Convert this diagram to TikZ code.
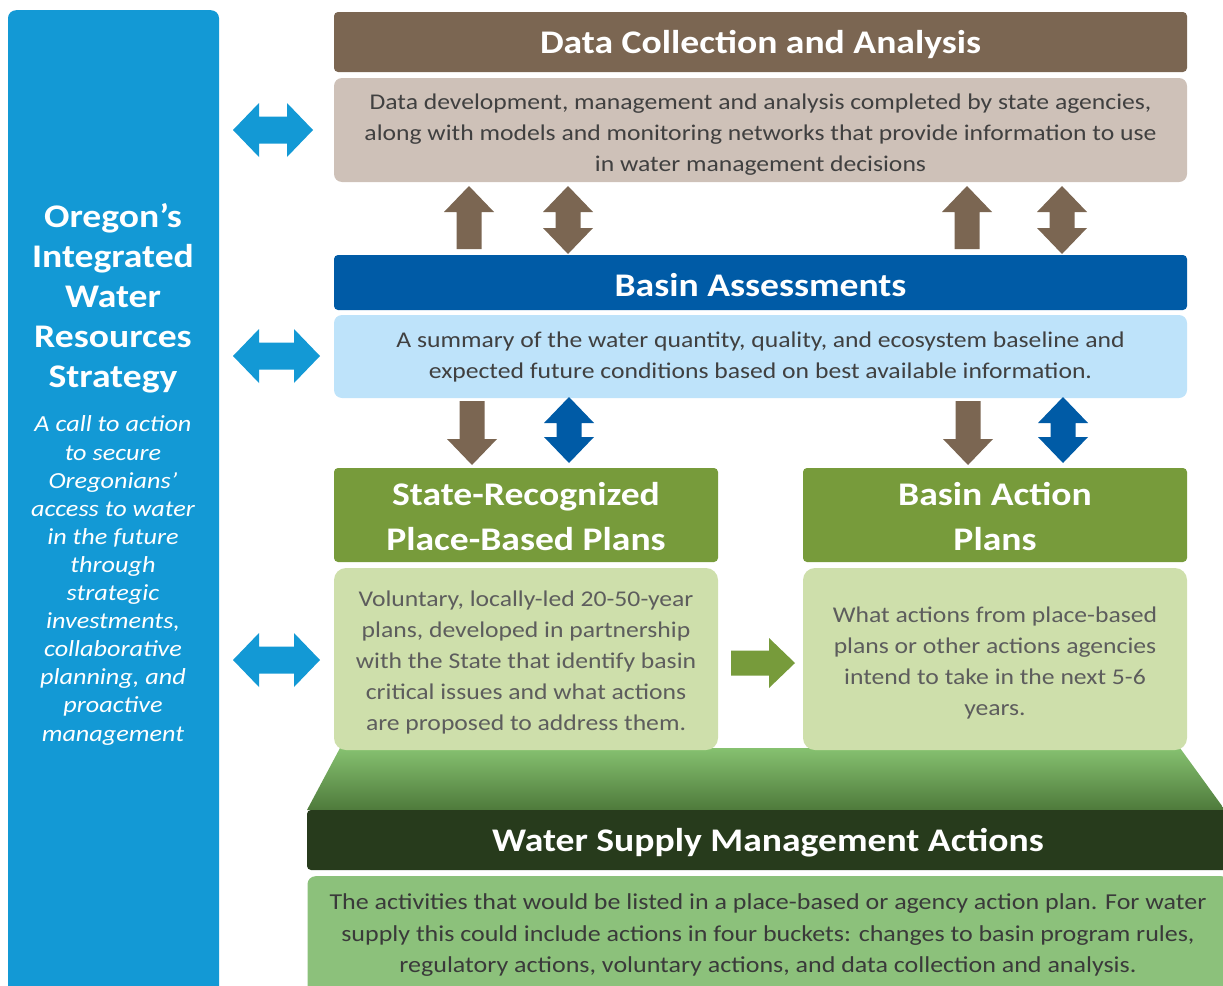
\documentclass[tikz,border=0pt]{standalone}
\usepackage{fontspec}
\setmainfont{Carlito}[FakeStretch=1.14]

\definecolor{panelblue}{HTML}{1399D5}
\definecolor{dcbrown}{HTML}{7B6652}
\definecolor{dctaupe}{HTML}{CEC1B8}
\definecolor{badark}{HTML}{005BA6}
\definecolor{balight}{HTML}{BEE3FA}
\definecolor{plgreen}{HTML}{779B3B}
\definecolor{pllight}{HTML}{CEDFAB}
\definecolor{wsdark}{HTML}{273B1C}
\definecolor{wsbody}{HTML}{8CC17B}
\definecolor{txtgray}{HTML}{404040}
\definecolor{trtop}{HTML}{86C170}
\definecolor{trbot}{HTML}{4E7A3B}

\tikzset{
  x=1pt, y=-1pt,
  hdrbox/.style={rounded corners=4pt, inner sep=0pt},
  bodybox/.style={rounded corners=8pt, inner sep=0pt},
  hdrtext/.style={text=white, align=center,
    font=\fontsize{33}{45}\selectfont\bfseries},
  bodytext/.style={text=txtgray, align=center,
    font=\fontsize{22.5}{31}\selectfont},
  % single block arrow pointing along +x: length, head half-width, shaft half-width, head length
  pics/sarrow/.style n args={4}{code={
    \fill (-#1/2,-#3) -- (#1/2-#4,-#3) -- (#1/2-#4,-#2) -- (#1/2,0)
      -- (#1/2-#4,#2) -- (#1/2-#4,#3) -- (-#1/2,#3) -- cycle;}},
  % double-headed block arrow along x
  pics/darrow/.style n args={4}{code={
    \fill (-#1/2,0) -- (-#1/2+#4,-#2) -- (-#1/2+#4,-#3) -- (#1/2-#4,-#3)
      -- (#1/2-#4,-#2) -- (#1/2,0) -- (#1/2-#4,#2) -- (#1/2-#4,#3)
      -- (-#1/2+#4,#3) -- (-#1/2+#4,#2) -- cycle;}},
}

\begin{document}
\begin{tikzpicture}
\useasboundingbox (0,0) rectangle (1223,985);
\clip (0,0) rectangle (1223,985);

% strategy panel on the left
\node[fill=panelblue, rounded corners=8pt, minimum width=211pt, minimum height=1000pt,
  anchor=north, inner sep=0pt] (panel) at (113.5,10) {};
\node[text=white, align=center, font=\fontsize{33}{40}\selectfont\bfseries]
  (title) at (113,298) {Oregon's\\Integrated\\Water\\Resources\\Strategy};
\node[text=white, align=center, font=\fontsize{23}{28.1}\selectfont\itshape]
  (call) at (113,580.5) {A call to action\\to secure\\Oregonians'\\access to water\\in the future\\through\\strategic\\investments,\\collaborative\\planning, and\\proactive\\management};

% sloped base under the plans
\shade[top color=trtop, bottom color=trbot]
  (340,748) -- (1180,748) -- (1225,810) -- (307,810) -- cycle;

% data collection
\node[hdrbox, fill=dcbrown, minimum width=853pt, minimum height=60pt] (dch) at (760.5,42) {};
\node[hdrtext] (dchtext) at (760.5,44) {Data Collection and Analysis};
\node[bodybox, fill=dctaupe, minimum width=853pt, minimum height=104pt] (dcb) at (760.5,130) {};
\node[bodytext] (dcbtext) at (760.5,135)
  {Data development, management and analysis completed by state agencies,\\
   along with models and monitoring networks that provide information to use\\
   in water management decisions};

% basin assessments
\node[hdrbox, fill=badark, minimum width=853pt, minimum height=55pt] (bah) at (760.5,282.5) {};
\node[hdrtext] (bahtext) at (760.5,285.5) {Basin Assessments};
\node[bodybox, fill=balight, minimum width=853pt, minimum height=83pt] (bab) at (760.5,356.5) {};
\node[bodytext] (babtext) at (760.5,357)
  {A summary of the water quantity, quality, and ecosystem baseline and\\
   expected future conditions based on best available information.};

% plans
\node[hdrbox, fill=plgreen, minimum width=384pt, minimum height=94pt] (sph) at (526,515) {};
\node[hdrtext] (sphtext) at (526,516.5) {State-Recognized\\Place-Based Plans};
\node[bodybox, rounded corners=12pt, fill=pllight, minimum width=384pt,
  minimum height=182pt] (spb) at (526,659) {};
\node[bodytext, text=txtgray!85] (spbtext) at (526,662.5)
  {Voluntary, locally-led 20-50-year\\plans, developed in partnership\\with the State that identify basin\\critical issues and what actions\\are proposed to address them.};
\node[hdrbox, fill=plgreen, minimum width=384pt, minimum height=94pt] (bph) at (995,515) {};
\node[hdrtext] (bphtext) at (995,516.5) {Basin Action\\Plans};
\node[bodybox, rounded corners=12pt, fill=pllight, minimum width=384pt,
  minimum height=182pt] (bpb) at (995,659) {};
\node[bodytext, text=txtgray!85] (bpbtext) at (995,662.5)
  {What actions from place-based\\plans or other actions agencies\\intend to take in the next 5-6\\years.};

% water supply management actions
\node[hdrbox, fill=wsdark, minimum width=922pt, minimum height=60pt] (wsh) at (768,840) {};
\node[hdrtext] (wshtext) at (768,843) {Water Supply Management Actions};
\node[bodybox, fill=wsbody, minimum width=922pt, minimum height=140pt,
  anchor=north] (wsb) at (768.5,876) {};
\node[bodytext, text=txtgray!90!black, font=\fontsize{22.8}{31.5}\selectfont]
  (wstext) at (768,935.5)
  {The activities that would be listed in a place-based or agency action plan. For water\\
   supply this could include actions in four buckets: changes to basin program rules,\\
   regulatory actions, voluntary actions, and data collection and analysis.};

% links from the strategy panel
\pic[color=panelblue] at (273,130) {darrow={80}{27}{13.5}{26}};
\pic[color=panelblue] at (276.5,356) {darrow={87}{27}{13.5}{26}};
\pic[color=panelblue] at (276.5,660) {darrow={87}{27}{13.5}{26}};

% between data collection and basin assessments
\pic[color=dcbrown, rotate=90] at (469,217.5) {sarrow={63}{25}{12.5}{26}};
\pic[color=dcbrown, rotate=90] at (568,220) {darrow={68}{25}{12.5}{26}};
\pic[color=dcbrown, rotate=90] at (967,217.5) {sarrow={63}{25}{12.5}{26}};
\pic[color=dcbrown, rotate=90] at (1062,220) {darrow={68}{25}{12.5}{26}};

% between basin assessments and plans
\pic[color=dcbrown, rotate=-90] at (472,433) {sarrow={64}{25}{12.5}{26}};
\pic[color=badark, rotate=90] at (569,430) {darrow={66}{25}{12.5}{26}};
\pic[color=dcbrown, rotate=-90] at (968,433) {sarrow={64}{25}{12.5}{26}};
\pic[color=badark, rotate=90] at (1063,430) {darrow={66}{25}{12.5}{26}};

% place-based plans feed basin action plans
\pic[color=plgreen] at (763,663) {sarrow={64}{25}{12.5}{26}};
\end{tikzpicture}
\end{document}
